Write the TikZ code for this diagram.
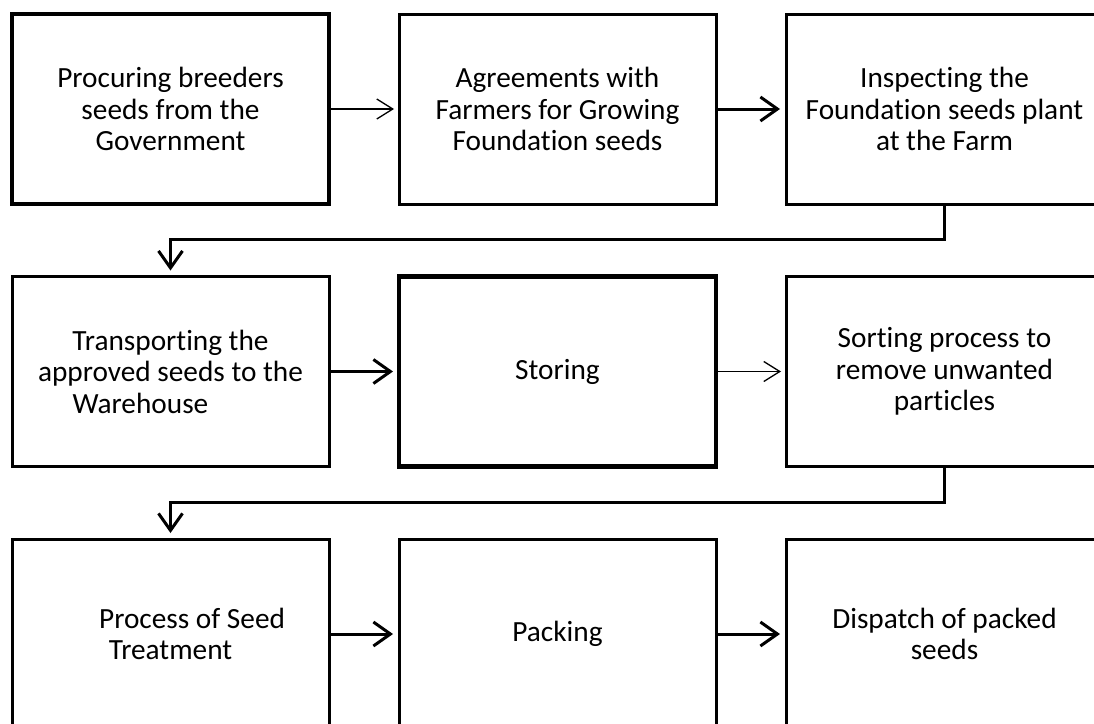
\documentclass[tikz,border=0pt]{standalone}
\usepackage{fontspec}
\setmainfont[Ligatures={NoCommon}]{Carlito}
\usetikzlibrary{arrows.meta,positioning}

\begin{document}
\begin{tikzpicture}[
  x=1pt, y=-1pt,
  every node/.style={rectangle, draw, minimum width=317pt, minimum height=190pt,
    align=center, outer sep=0pt, inner sep=0pt, line width=3pt,
    font=\fontsize{29.3}{31.5}\selectfont},
  thickbox/.style={line width=4.5pt},
  node distance=72.5pt and 70pt,
  flow/.style={draw, line width=3pt, -{Straight Barb[length=17pt,width=24pt]}, shorten >=6pt},
  thinflow/.style={draw, line width=1.3pt, -{Straight Barb[length=16pt,width=20pt]}, shorten >=5pt}
]
\useasboundingbox (0,0) rectangle (1094,723);
\clip (0,0) rectangle (1094,723);
% first row
\node[thickbox] (procure) at (170.5,109) {Procuring breeders\\seeds from the\\Government};
\node[right=of procure] (agree) {Agreements with\\Farmers for Growing\\Foundation seeds};
\node[right=of agree] (inspect) {Inspecting the\\Foundation seeds plant\\at the Farm};
% second row
\node[below=of procure] (transport) {Transporting the\\approved seeds to the\\\makebox[196pt][l]{Warehouse}};
\node[thickbox, right=of transport] (store) {Storing};
\node[right=of store] (sort) {Sorting process to\\remove unwanted\\particles};
% third row
\node[below=of transport] (treat) {\makebox[229pt][r]{Process of Seed}\\Treatment};
\node[right=of treat] (pack) {Packing};
\node[right=of pack] (dispatch) {Dispatch of packed\\seeds};
% connectors
\draw[thinflow] (procure) -- (agree);
\draw[flow] (agree) -- (inspect);
\draw[flow] (inspect.south) -- ++(0,35) -| (transport.north);
\draw[flow] (transport) -- (store);
\draw[thinflow] (store) -- (sort);
\draw[flow] (sort.south) -- ++(0,36) -| (treat.north);
\draw[flow] (treat) -- (pack);
\draw[flow] (pack) -- (dispatch);
\end{tikzpicture}
\end{document}
